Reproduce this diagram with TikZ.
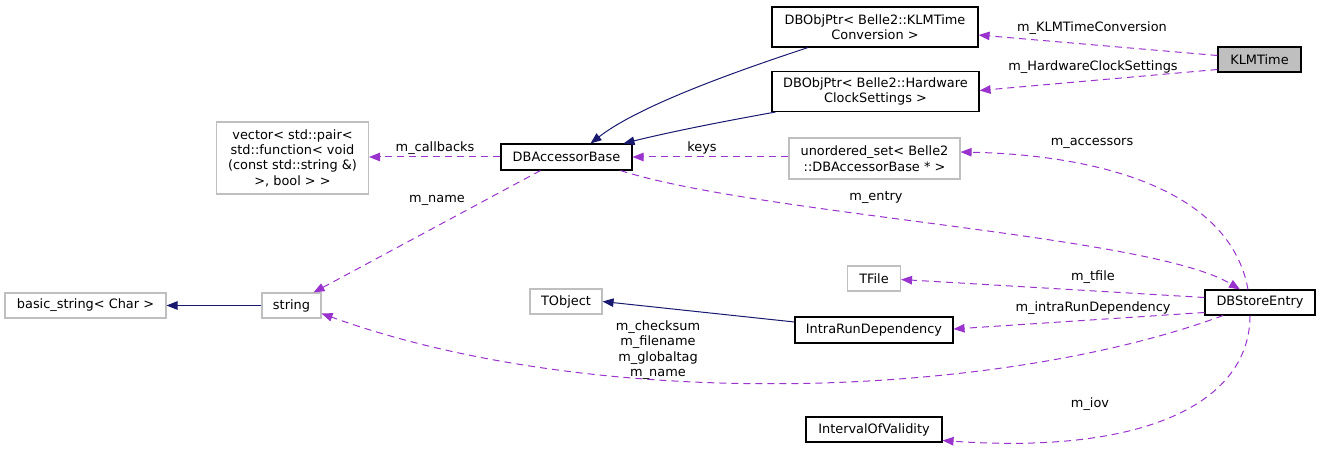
\documentclass[tikz,border=0pt]{standalone}
\usepackage{fontspec}
\setmainfont{DejaVu Sans}
\usetikzlibrary{arrows.meta,calc}
\definecolor{dep}{HTML}{9A32CD}
\definecolor{inh}{HTML}{191970}
\definecolor{gborder}{HTML}{BFBFBF}
\begin{document}
\begin{tikzpicture}[x=1bp,y=-1bp,
  every node/.style={font=\fontsize{12.9bp}{15.4bp}\selectfont, inner sep=0pt, align=center},
  cls/.style={draw=black, line width=1.1bp, fill=white},
  ext/.style={draw=gborder, line width=1.1bp, fill=white},
  depline/.style={draw=dep, line width=1bp, dash pattern=on 7bp off 5bp, -{Triangle[length=11bp,width=8.5bp]}},
  inhline/.style={draw=inh, line width=1bp, -{Triangle[length=11bp,width=8.5bp]}},
  lbl/.style={fill=none}
]
\useasboundingbox (0,0) rectangle (1320,454);

% nodes
\node[cls, fill={rgb,255:red,191;green,191;blue,191}, minimum width=83bp, minimum height=25bp] (klmtime) at (1259.5,59.5) {KLMTime};
\node[cls, minimum width=206bp, minimum height=40bp] (dbklm) at (875,27) {DBObjPtr< Belle2::KLMTime\\Conversion >};
\node[cls, minimum width=207bp, minimum height=40bp] (dbhw) at (875.5,91.5) {DBObjPtr< Belle2::Hardware\\ClockSettings >};
\node[cls, minimum width=131bp, minimum height=26bp] (dbab) at (566.5,157) {DBAccessorBase};
\node[ext, minimum width=152bp, minimum height=72bp] (vec) at (292.5,158) {vector< std::pair<\\ std::function< void\\(const std::string \&)\\ >, bool > >};
\node[ext, minimum width=171bp, minimum height=41bp] (uset) at (874.5,158.5) {unordered\_set< Belle2\\::DBAccessorBase * >};
\node[ext, minimum width=59bp, minimum height=25bp] (str) at (291.5,305.5) {string};
\node[ext, minimum width=161bp, minimum height=25bp] (bstr) at (85.5,305.5) {basic\_string< Char >};
\node[ext, minimum width=53bp, minimum height=25bp] (tfile) at (874,278.5) {TFile};
\node[ext, minimum width=72bp, minimum height=25bp] (tobj) at (566,301.5) {TObject};
\node[cls, minimum width=158bp, minimum height=26bp] (intra) at (874,330) {IntraRunDependency};
\node[cls, minimum width=110bp, minimum height=25bp] (dbse) at (1260,302.5) {DBStoreEntry};
\node[cls, minimum width=136bp, minimum height=25bp] (iov) at (874,429.5) {IntervalOfValidity};

% inheritance
\draw[inhline] ($(dbklm.south)+(-67,0)$) .. controls (740,70) and (640,105) .. ($(dbab.north)+(24,0)$);
\draw[inhline] ($(dbhw.south west)+(4,0)$) .. controls (720,122) and (670,132) .. ($(dbab.north)+(57,0)$);
\draw[inhline] ($(intra.west)+(0,-8)$) -- (tobj.east);
\draw[inhline] (str.west) -- (bstr.east);

% usage
\draw[depline] ($(klmtime.west)+(0,-4)$) -- ($(dbklm.east)+(0,8)$);
\draw[depline] ($(klmtime.west)+(0,10)$) -- ($(dbhw.east)+(0,-1)$);
\draw[depline] (dbab.west) -- ($(vec.east)+(0,-1)$);
\draw[depline] ($(uset.west)+(0,-1.5)$) -- (dbab.east);
\draw[depline] ($(dbab.south)+(-26,0)$) -- ($(str.north)+(22,0)$);
\draw[depline] ($(dbab.south)+(54,0)$) .. controls (760,215) and (1150,235) .. ($(dbse.north)+(-20,0)$);
\draw[depline] ($(dbse.north)+(-12,0)$) .. controls (1230,190) and (1100,155) .. ($(uset.east)+(0,-6.5)$);
\draw[depline] ($(dbse.west)+(0,-5)$) -- ($(tfile.east)+(0,1)$);
\draw[depline] ($(dbse.west)+(0,10)$) -- ($(intra.east)+(0,-1)$);
\draw[depline] ($(dbse.south)+(-37,0)$) .. controls (1000,398) and (600,414) .. ($(str.east)+(0,8)$);
\draw[depline] ($(dbse.south)+(-10,0)$) .. controls (1250,400) and (1150,455) .. ($(iov.east)+(0,11)$);

% labels
\node[lbl] (l1) at (1092,28) {m\_KLMTimeConversion};
\node[lbl] (l2) at (1093,67) {m\_HardwareClockSettings};
\node[lbl] (l3) at (435,148) {m\_callbacks};
\node[lbl] (l4) at (702,148) {keys};
\node[lbl] (l5) at (1092,143) {m\_accessors};
\node[lbl] (l6) at (437,200) {m\_name};
\node[lbl] (l7) at (876,197) {m\_entry};
\node[lbl] (l8) at (1093,277) {m\_tfile};
\node[lbl] (l9) at (1093,308) {m\_intraRunDependency};
\node[lbl] (l10) at (658,350) {m\_checksum\\m\_filename\\m\_globaltag\\m\_name};
\node[lbl] (l11) at (1090,404) {m\_iov};
\end{tikzpicture}
\end{document}
